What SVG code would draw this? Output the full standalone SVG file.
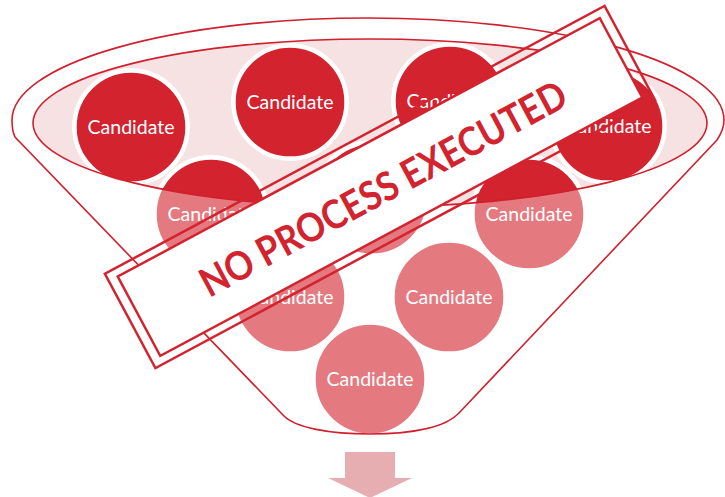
<svg xmlns="http://www.w3.org/2000/svg" width="725" height="497" viewBox="0 0 725 497">
  <style>
    .rim { fill: none; stroke: #d0202d; stroke-width: 1.6; }
    .bowl-fill { fill: #f6e2e3; }
    .pale { fill: #e47a80; stroke: #ffffff; stroke-width: 4.4; }
    .dark { fill: #d2232f; stroke: #ffffff; stroke-width: 4.4; }
    .label { font-family: Lato, "Open Sans", "Liberation Sans", sans-serif; font-size: 19.5px; fill: #ffffff; text-anchor: middle; }
    .stamp-line { stroke: #d2232f; stroke-width: 2.5; }
    .stamp-text { font-family: Lato, "Open Sans", "Liberation Sans", sans-serif; font-weight: 700; font-size: 40px; fill: #d2232f; text-anchor: middle; }
    .arrow { fill: #e6aeb0; }
  </style>
  <defs>
    <!-- funnel silhouette: elliptical mouth, straight sides, rounded bottom -->
    <path id="funnel-shape" d="M 15,137 C 12,131 12,125 12,120 A 356 102 0 0 1 724,120 C 724,127 721,134 717,140 L 459,413 C 445,428 410,434 370,434 C 330,434 295,428 283,415 Z"/>
    <ellipse id="bowl-shape" cx="370" cy="123" rx="337" ry="84"/>
    <clipPath id="bowl-clip">
      <use href="#bowl-shape"/>
    </clipPath>
  </defs>

  <!-- funnel body and the tinted mouth -->
  <g id="funnel">
    <use href="#funnel-shape" fill="#ffffff"/>
    <use href="#bowl-shape" class="bowl-fill"/>
  </g>

  <!-- candidates: pale body, dark part where they sit inside the mouth -->
  <g id="candidate-1">
    <circle class="pale" cx="131" cy="127" r="56.5"/>
    <circle class="dark" cx="131" cy="127" r="56.5" clip-path="url(#bowl-clip)"/>
    <text class="label" x="131" y="134">Candidate</text>
  </g>
  <g id="candidate-2">
    <circle class="pale" cx="290" cy="102" r="56.5"/>
    <circle class="dark" cx="290" cy="102" r="56.5" clip-path="url(#bowl-clip)"/>
    <text class="label" x="290" y="109">Candidate</text>
  </g>
  <g id="candidate-3">
    <circle class="pale" cx="450" cy="101" r="56.5"/>
    <circle class="dark" cx="450" cy="101" r="56.5" clip-path="url(#bowl-clip)"/>
    <text class="label" x="450" y="108">Candidate</text>
  </g>
  <g id="candidate-4">
    <circle class="pale" cx="608" cy="126" r="56.5"/>
    <circle class="dark" cx="608" cy="126" r="56.5" clip-path="url(#bowl-clip)"/>
    <text class="label" x="608" y="133">Candidate</text>
  </g>
  <g id="candidate-5">
    <circle class="pale" cx="211" cy="214" r="56.5"/>
    <circle class="dark" cx="211" cy="214" r="56.5" clip-path="url(#bowl-clip)"/>
    <text class="label" x="211" y="221">Candidate</text>
  </g>
  <g id="candidate-6">
    <circle class="pale" cx="372" cy="199" r="56.5"/>
    <circle class="dark" cx="372" cy="199" r="56.5" clip-path="url(#bowl-clip)"/>
  </g>
  <g id="candidate-7">
    <circle class="pale" cx="529" cy="214" r="56.5"/>
    <circle class="dark" cx="529" cy="214" r="56.5" clip-path="url(#bowl-clip)"/>
    <text class="label" x="529" y="221">Candidate</text>
  </g>
  <g id="candidate-8">
    <circle class="pale" cx="290" cy="297" r="56.5"/>
    <text class="label" x="290" y="304">Candidate</text>
  </g>
  <g id="candidate-9">
    <circle class="pale" cx="449" cy="297" r="56.5"/>
    <text class="label" x="449" y="304">Candidate</text>
  </g>
  <g id="candidate-10">
    <circle class="pale" cx="370" cy="379" r="56.5"/>
    <text class="label" x="370" y="386">Candidate</text>
  </g>

  <!-- outlines on top of the candidates -->
  <g id="funnel-outline">
    <use href="#bowl-shape" class="rim"/>
    <use href="#funnel-shape" class="rim"/>
  </g>

  <!-- output arrow below the funnel -->
  <g id="connectors">
    <polygon class="arrow" points="345,452 395,452 395,478 412,478 370,498 328,478 345,478"/>
  </g>

  <!-- stamp with a double border; the gap between the borders is open -->
  <g id="stamp" transform="translate(380 187) rotate(-28.2)">
    <rect class="stamp-line" x="-283.5" y="-53.5" width="567" height="107" fill="none"/>
    <rect class="stamp-line" x="-273.5" y="-45" width="547" height="90" fill="#ffffff"/>
    <text class="stamp-text" x="2" y="17" textLength="410" lengthAdjust="spacingAndGlyphs">NO PROCESS EXECUTED</text>
  </g>
</svg>
